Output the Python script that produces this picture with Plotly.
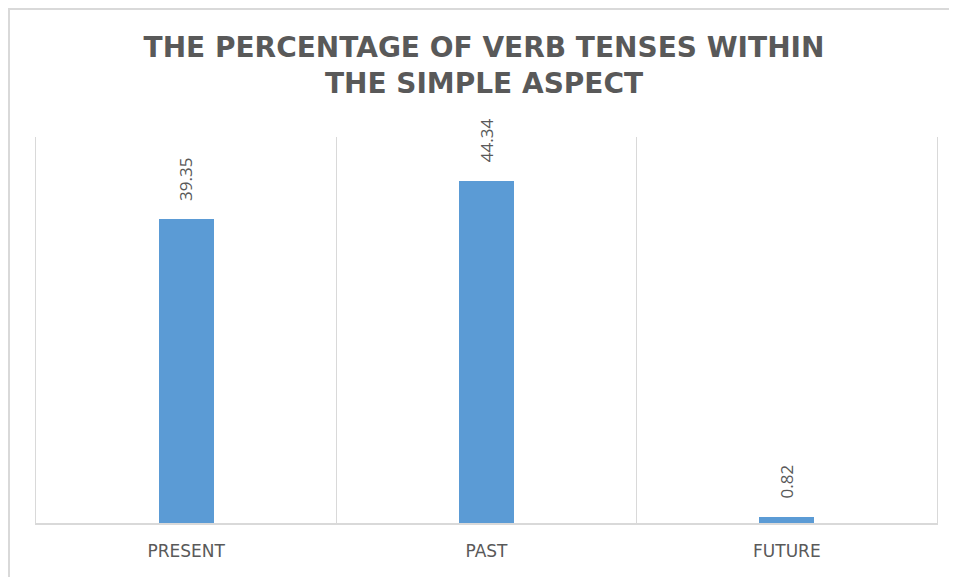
import plotly.graph_objects as go

categories = ["PRESENT", "PAST", "FUTURE"]
values = [39.35, 44.34, 0.82]
labels = ["39.35", "44.34", "0.82"]

# page body has an 8px margin; figure sized to fit the 957x577 window
W, H = 949, 569
ML, MR, MT, MB = 28, 20, 129, 54
pw = W - ML - MR
ph = H - MT - MB

fig = go.Figure()
fig.add_trace(go.Bar(
    x=categories, y=values,
    marker=dict(color="#5B9BD5", line=dict(width=0)),
    width=0.183,
    hoverinfo="x+y",
))

for c, v, t in zip(categories, values, labels):
    fig.add_annotation(
        x=c, y=v, text=t, showarrow=False, textangle=-90,
        xanchor="center", yanchor="bottom", yshift=16,
        font=dict(family="Open Sans, Calibri, sans-serif", size=17, color="#595959"),
    )

# outer chart border (cropped at right/bottom in reference)
fig.add_shape(
    type="rect", xref="paper", yref="paper",
    x0=(1 - ML) / pw, x1=(W + 10 - ML) / pw,
    y0=-(H + 10 - MT - ph) / ph, y1=(H - 1 - MB) / ph,
    line=dict(color="#D9D9D9", width=2), layer="below",
)

fig.update_layout(
    width=W, height=H,
    margin=dict(l=ML, r=MR, t=MT, b=MB),
    paper_bgcolor="white", plot_bgcolor="white",
    showlegend=False,
    title=dict(
        text="THE PERCENTAGE OF VERB TENSES WITHIN<br>THE SIMPLE ASPECT",
        x=(476) / W, xanchor="center", y=1 - 49 / H, yanchor="top",
        font=dict(family="DejaVu Sans, sans-serif", size=28, color="#595959", weight="bold"),
    ),
    bargap=0,
)
fig.update_xaxes(
    type="category", tickson="boundaries", showgrid=True, gridcolor="#D9D9D9", gridwidth=1,
    showline=True, linecolor="#D9D9D9", linewidth=2, ticks="", ticklabelstandoff=12,
    tickfont=dict(family="DejaVu Sans, sans-serif", size=17, color="#595959"),
    range=[-0.5, 2.5],
)
fig.update_yaxes(
    range=[0, 50], showgrid=False, showticklabels=False, zeroline=False,
    showline=True, mirror=True, linecolor="#D9D9D9", linewidth=1,
)

fig.write_html("out.html")
